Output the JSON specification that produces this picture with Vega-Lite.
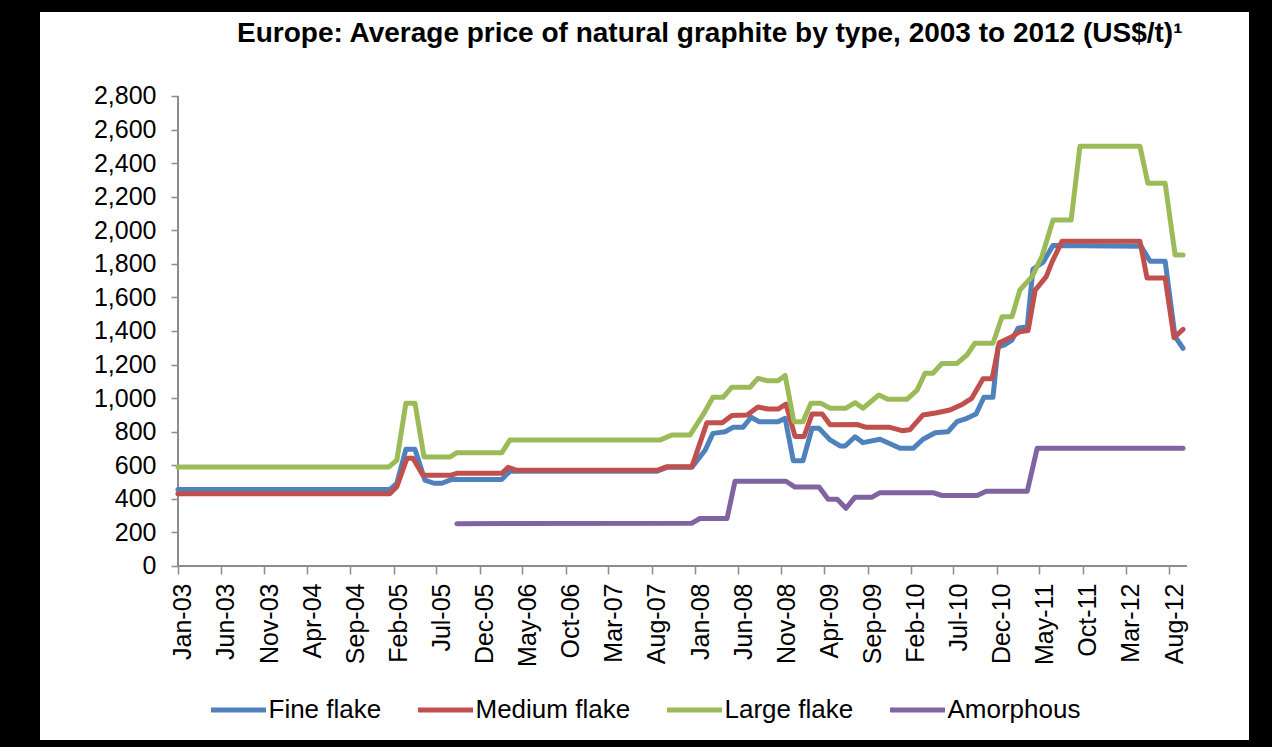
{
  "$schema": "https://vega.github.io/schema/vega-lite/v6.json",
  "width": 1209,
  "height": 728,
  "autosize": {"type": "none"},
  "padding": {"left": 40, "top": 12, "right": 23, "bottom": 7},
  "background": "#000000",
  "config": {
    "view": {"fill": "#ffffff", "stroke": null},
    "font": "Liberation Sans"
  },
  "title": {
    "text": "Europe: Average price of natural graphite by type, 2003 to 2012 (US$/t)¹",
    "anchor": "start",
    "frame": "group",
    "dx": 197,
    "offset": -58,
    "baseline": "alphabetic",
    "font": "Liberation Sans",
    "fontSize": 28,
    "fontWeight": "bold",
    "color": "#000000"
  },
  "data": {
    "values": [
      {"date": "2003-01-01", "type": "Fine flake", "price": 455},
      {"date": "2005-01-18", "type": "Fine flake", "price": 455},
      {"date": "2005-02-12", "type": "Fine flake", "price": 493},
      {"date": "2005-03-16", "type": "Fine flake", "price": 695},
      {"date": "2005-04-17", "type": "Fine flake", "price": 695},
      {"date": "2005-05-22", "type": "Fine flake", "price": 512},
      {"date": "2005-06-23", "type": "Fine flake", "price": 493},
      {"date": "2005-07-21", "type": "Fine flake", "price": 493},
      {"date": "2005-08-25", "type": "Fine flake", "price": 516},
      {"date": "2006-02-18", "type": "Fine flake", "price": 516},
      {"date": "2006-03-18", "type": "Fine flake", "price": 565},
      {"date": "2007-08-20", "type": "Fine flake", "price": 565},
      {"date": "2007-09-24", "type": "Fine flake", "price": 588},
      {"date": "2007-12-21", "type": "Fine flake", "price": 588},
      {"date": "2008-02-06", "type": "Fine flake", "price": 691},
      {"date": "2008-03-04", "type": "Fine flake", "price": 790},
      {"date": "2008-04-16", "type": "Fine flake", "price": 800},
      {"date": "2008-05-14", "type": "Fine flake", "price": 826},
      {"date": "2008-06-18", "type": "Fine flake", "price": 826},
      {"date": "2008-07-17", "type": "Fine flake", "price": 886},
      {"date": "2008-08-14", "type": "Fine flake", "price": 860},
      {"date": "2008-10-20", "type": "Fine flake", "price": 860},
      {"date": "2008-11-14", "type": "Fine flake", "price": 880},
      {"date": "2008-12-13", "type": "Fine flake", "price": 627},
      {"date": "2009-01-16", "type": "Fine flake", "price": 627},
      {"date": "2009-02-17", "type": "Fine flake", "price": 820},
      {"date": "2009-03-14", "type": "Fine flake", "price": 820},
      {"date": "2009-04-22", "type": "Fine flake", "price": 751},
      {"date": "2009-05-27", "type": "Fine flake", "price": 715},
      {"date": "2009-06-14", "type": "Fine flake", "price": 715},
      {"date": "2009-07-19", "type": "Fine flake", "price": 770},
      {"date": "2009-08-16", "type": "Fine flake", "price": 735},
      {"date": "2009-10-15", "type": "Fine flake", "price": 755},
      {"date": "2009-12-25", "type": "Fine flake", "price": 701},
      {"date": "2010-02-09", "type": "Fine flake", "price": 701},
      {"date": "2010-03-16", "type": "Fine flake", "price": 755},
      {"date": "2010-04-28", "type": "Fine flake", "price": 794},
      {"date": "2010-06-12", "type": "Fine flake", "price": 800},
      {"date": "2010-07-14", "type": "Fine flake", "price": 860},
      {"date": "2010-08-18", "type": "Fine flake", "price": 880},
      {"date": "2010-09-19", "type": "Fine flake", "price": 905},
      {"date": "2010-10-17", "type": "Fine flake", "price": 1005},
      {"date": "2010-11-18", "type": "Fine flake", "price": 1005},
      {"date": "2010-12-06", "type": "Fine flake", "price": 1306},
      {"date": "2010-12-27", "type": "Fine flake", "price": 1316},
      {"date": "2011-01-24", "type": "Fine flake", "price": 1346},
      {"date": "2011-02-14", "type": "Fine flake", "price": 1416},
      {"date": "2011-03-19", "type": "Fine flake", "price": 1426},
      {"date": "2011-04-08", "type": "Fine flake", "price": 1768},
      {"date": "2011-05-14", "type": "Fine flake", "price": 1810},
      {"date": "2011-06-18", "type": "Fine flake", "price": 1910},
      {"date": "2012-04-24", "type": "Fine flake", "price": 1905},
      {"date": "2012-05-26", "type": "Fine flake", "price": 1815},
      {"date": "2012-07-18", "type": "Fine flake", "price": 1815},
      {"date": "2012-08-22", "type": "Fine flake", "price": 1366},
      {"date": "2012-09-19", "type": "Fine flake", "price": 1297},

      {"date": "2003-01-01", "type": "Medium flake", "price": 430},
      {"date": "2005-01-18", "type": "Medium flake", "price": 430},
      {"date": "2005-02-12", "type": "Medium flake", "price": 472},
      {"date": "2005-03-20", "type": "Medium flake", "price": 642},
      {"date": "2005-04-10", "type": "Medium flake", "price": 642},
      {"date": "2005-05-15", "type": "Medium flake", "price": 540},
      {"date": "2005-08-19", "type": "Medium flake", "price": 540},
      {"date": "2005-09-12", "type": "Medium flake", "price": 552},
      {"date": "2006-02-18", "type": "Medium flake", "price": 552},
      {"date": "2006-03-12", "type": "Medium flake", "price": 588},
      {"date": "2006-04-12", "type": "Medium flake", "price": 570},
      {"date": "2007-08-20", "type": "Medium flake", "price": 570},
      {"date": "2007-09-24", "type": "Medium flake", "price": 592},
      {"date": "2007-12-21", "type": "Medium flake", "price": 592},
      {"date": "2008-02-12", "type": "Medium flake", "price": 854},
      {"date": "2008-04-06", "type": "Medium flake", "price": 854},
      {"date": "2008-05-10", "type": "Medium flake", "price": 897},
      {"date": "2008-07-03", "type": "Medium flake", "price": 900},
      {"date": "2008-08-10", "type": "Medium flake", "price": 947},
      {"date": "2008-09-15", "type": "Medium flake", "price": 935},
      {"date": "2008-10-20", "type": "Medium flake", "price": 935},
      {"date": "2008-11-17", "type": "Medium flake", "price": 965},
      {"date": "2008-12-19", "type": "Medium flake", "price": 772},
      {"date": "2009-01-20", "type": "Medium flake", "price": 772},
      {"date": "2009-02-17", "type": "Medium flake", "price": 905},
      {"date": "2009-03-25", "type": "Medium flake", "price": 905},
      {"date": "2009-04-22", "type": "Medium flake", "price": 842},
      {"date": "2009-07-26", "type": "Medium flake", "price": 843},
      {"date": "2009-08-27", "type": "Medium flake", "price": 826},
      {"date": "2009-11-19", "type": "Medium flake", "price": 826},
      {"date": "2010-01-01", "type": "Medium flake", "price": 806},
      {"date": "2010-01-29", "type": "Medium flake", "price": 812},
      {"date": "2010-03-16", "type": "Medium flake", "price": 900},
      {"date": "2010-05-04", "type": "Medium flake", "price": 913},
      {"date": "2010-06-19", "type": "Medium flake", "price": 929},
      {"date": "2010-07-28", "type": "Medium flake", "price": 959},
      {"date": "2010-09-04", "type": "Medium flake", "price": 999},
      {"date": "2010-10-14", "type": "Medium flake", "price": 1115},
      {"date": "2010-11-15", "type": "Medium flake", "price": 1115},
      {"date": "2010-12-10", "type": "Medium flake", "price": 1330},
      {"date": "2011-01-24", "type": "Medium flake", "price": 1366},
      {"date": "2011-02-21", "type": "Medium flake", "price": 1396},
      {"date": "2011-03-22", "type": "Medium flake", "price": 1403},
      {"date": "2011-04-16", "type": "Medium flake", "price": 1644},
      {"date": "2011-05-25", "type": "Medium flake", "price": 1724},
      {"date": "2011-06-15", "type": "Medium flake", "price": 1813},
      {"date": "2011-07-20", "type": "Medium flake", "price": 1935},
      {"date": "2012-04-20", "type": "Medium flake", "price": 1935},
      {"date": "2012-05-15", "type": "Medium flake", "price": 1715},
      {"date": "2012-07-18", "type": "Medium flake", "price": 1715},
      {"date": "2012-08-18", "type": "Medium flake", "price": 1360},
      {"date": "2012-09-19", "type": "Medium flake", "price": 1410},

      {"date": "2003-01-01", "type": "Large flake", "price": 590},
      {"date": "2005-01-15", "type": "Large flake", "price": 590},
      {"date": "2005-02-12", "type": "Large flake", "price": 630},
      {"date": "2005-03-16", "type": "Large flake", "price": 970},
      {"date": "2005-04-17", "type": "Large flake", "price": 970},
      {"date": "2005-05-19", "type": "Large flake", "price": 650},
      {"date": "2005-08-19", "type": "Large flake", "price": 650},
      {"date": "2005-09-12", "type": "Large flake", "price": 675},
      {"date": "2006-02-18", "type": "Large flake", "price": 675},
      {"date": "2006-03-18", "type": "Large flake", "price": 750},
      {"date": "2007-08-30", "type": "Large flake", "price": 750},
      {"date": "2007-10-11", "type": "Large flake", "price": 780},
      {"date": "2007-12-14", "type": "Large flake", "price": 780},
      {"date": "2008-02-05", "type": "Large flake", "price": 920},
      {"date": "2008-03-04", "type": "Large flake", "price": 1005},
      {"date": "2008-04-09", "type": "Large flake", "price": 1005},
      {"date": "2008-05-10", "type": "Large flake", "price": 1065},
      {"date": "2008-07-13", "type": "Large flake", "price": 1065},
      {"date": "2008-08-10", "type": "Large flake", "price": 1118},
      {"date": "2008-09-11", "type": "Large flake", "price": 1104},
      {"date": "2008-10-20", "type": "Large flake", "price": 1104},
      {"date": "2008-11-14", "type": "Large flake", "price": 1135},
      {"date": "2008-12-15", "type": "Large flake", "price": 860},
      {"date": "2009-01-16", "type": "Large flake", "price": 860},
      {"date": "2009-02-13", "type": "Large flake", "price": 969},
      {"date": "2009-03-21", "type": "Large flake", "price": 969},
      {"date": "2009-04-22", "type": "Large flake", "price": 940},
      {"date": "2009-06-17", "type": "Large flake", "price": 940},
      {"date": "2009-07-19", "type": "Large flake", "price": 973},
      {"date": "2009-08-16", "type": "Large flake", "price": 940},
      {"date": "2009-10-11", "type": "Large flake", "price": 1019},
      {"date": "2009-11-12", "type": "Large flake", "price": 993},
      {"date": "2010-01-18", "type": "Large flake", "price": 993},
      {"date": "2010-02-23", "type": "Large flake", "price": 1048},
      {"date": "2010-03-23", "type": "Large flake", "price": 1148},
      {"date": "2010-04-20", "type": "Large flake", "price": 1148},
      {"date": "2010-05-22", "type": "Large flake", "price": 1207},
      {"date": "2010-07-14", "type": "Large flake", "price": 1207},
      {"date": "2010-08-18", "type": "Large flake", "price": 1257},
      {"date": "2010-09-15", "type": "Large flake", "price": 1327},
      {"date": "2010-11-18", "type": "Large flake", "price": 1327},
      {"date": "2010-12-20", "type": "Large flake", "price": 1485},
      {"date": "2011-01-24", "type": "Large flake", "price": 1485},
      {"date": "2011-02-21", "type": "Large flake", "price": 1644},
      {"date": "2011-04-05", "type": "Large flake", "price": 1724},
      {"date": "2011-05-10", "type": "Large flake", "price": 1845},
      {"date": "2011-06-18", "type": "Large flake", "price": 2061},
      {"date": "2011-08-21", "type": "Large flake", "price": 2061},
      {"date": "2011-09-21", "type": "Large flake", "price": 2500},
      {"date": "2012-04-20", "type": "Large flake", "price": 2500},
      {"date": "2012-05-18", "type": "Large flake", "price": 2280},
      {"date": "2012-07-18", "type": "Large flake", "price": 2280},
      {"date": "2012-08-22", "type": "Large flake", "price": 1853},
      {"date": "2012-09-19", "type": "Large flake", "price": 1853},

      {"date": "2005-09-12", "type": "Amorphous", "price": 252},
      {"date": "2007-12-21", "type": "Amorphous", "price": 255},
      {"date": "2008-01-18", "type": "Amorphous", "price": 283},
      {"date": "2008-04-23", "type": "Amorphous", "price": 283},
      {"date": "2008-05-21", "type": "Amorphous", "price": 505},
      {"date": "2008-11-17", "type": "Amorphous", "price": 505},
      {"date": "2008-12-19", "type": "Amorphous", "price": 470},
      {"date": "2009-03-14", "type": "Amorphous", "price": 470},
      {"date": "2009-04-15", "type": "Amorphous", "price": 397},
      {"date": "2009-05-17", "type": "Amorphous", "price": 397},
      {"date": "2009-06-17", "type": "Amorphous", "price": 344},
      {"date": "2009-07-19", "type": "Amorphous", "price": 410},
      {"date": "2009-09-17", "type": "Amorphous", "price": 410},
      {"date": "2009-10-15", "type": "Amorphous", "price": 437},
      {"date": "2010-04-20", "type": "Amorphous", "price": 437},
      {"date": "2010-05-22", "type": "Amorphous", "price": 420},
      {"date": "2010-09-23", "type": "Amorphous", "price": 420},
      {"date": "2010-10-25", "type": "Amorphous", "price": 445},
      {"date": "2011-03-19", "type": "Amorphous", "price": 445},
      {"date": "2011-04-23", "type": "Amorphous", "price": 701},
      {"date": "2012-09-19", "type": "Amorphous", "price": 701}
    ]
  },
  "layer": [
    {
      "mark": {"type": "rule", "color": "#8c8c8c", "strokeWidth": 1.5},
      "encoding": {
        "x": {"datum": {"year": 2003, "month": 1, "date": 1, "utc": true}, "type": "temporal"},
        "y": {"datum": 0, "type": "quantitative"},
        "y2": {"datum": 2800}
      }
    },
    {
      "mark": {"type": "rule", "color": "#8c8c8c", "strokeWidth": 1.5},
      "encoding": {
        "x": {"datum": {"year": 2003, "month": 1, "date": 1, "utc": true}, "type": "temporal"},
        "x2": {"datum": {"year": 2012, "month": 10, "date": 3, "utc": true}},
        "y": {"datum": 0, "type": "quantitative"}
      }
    },
    {
      "mark": {"type": "line", "strokeWidth": 5, "strokeCap": "round", "strokeJoin": "round"},
      "encoding": {
        "x": {
          "field": "date",
          "type": "temporal",
          "scale": {
            "type": "utc",
            "domain": [
              {"year": 2001, "month": 9, "date": 1, "utc": true},
              {"year": 2013, "month": 5, "date": 10, "utc": true}
            ],
            "nice": false
          },
          "axis": {
            "title": null,
            "orient": "bottom",
            "offset": -174,
            "domain": false,
            "grid": false,
            "values": [
              {"year": 2003, "month": 1, "date": 1, "utc": true},
              {"year": 2003, "month": 6, "date": 1, "utc": true},
              {"year": 2003, "month": 11, "date": 1, "utc": true},
              {"year": 2004, "month": 4, "date": 1, "utc": true},
              {"year": 2004, "month": 9, "date": 1, "utc": true},
              {"year": 2005, "month": 2, "date": 1, "utc": true},
              {"year": 2005, "month": 7, "date": 1, "utc": true},
              {"year": 2005, "month": 12, "date": 1, "utc": true},
              {"year": 2006, "month": 5, "date": 1, "utc": true},
              {"year": 2006, "month": 10, "date": 1, "utc": true},
              {"year": 2007, "month": 3, "date": 1, "utc": true},
              {"year": 2007, "month": 8, "date": 1, "utc": true},
              {"year": 2008, "month": 1, "date": 1, "utc": true},
              {"year": 2008, "month": 6, "date": 1, "utc": true},
              {"year": 2008, "month": 11, "date": 1, "utc": true},
              {"year": 2009, "month": 4, "date": 1, "utc": true},
              {"year": 2009, "month": 9, "date": 1, "utc": true},
              {"year": 2010, "month": 2, "date": 1, "utc": true},
              {"year": 2010, "month": 7, "date": 1, "utc": true},
              {"year": 2010, "month": 12, "date": 1, "utc": true},
              {"year": 2011, "month": 5, "date": 1, "utc": true},
              {"year": 2011, "month": 10, "date": 1, "utc": true},
              {"year": 2012, "month": 3, "date": 1, "utc": true},
              {"year": 2012, "month": 8, "date": 1, "utc": true}
            ],
            "format": "%b-%y",
            "labelAngle": -90,
            "labelFont": "Liberation Sans",
            "labelFontSize": 25,
            "labelColor": "#000000",
            "labelPadding": 9,
            "labelOffset": 5,
            "labelOverlap": false,
            "labelFlush": false,
            "tickSize": 8,
            "tickColor": "#8c8c8c",
            "tickWidth": 1.5
          }
        },
        "y": {
          "field": "price",
          "type": "quantitative",
          "scale": {"domain": [-1036.6, 3300.4], "nice": false, "zero": false},
          "axis": {
            "title": null,
            "orient": "left",
            "offset": -138,
            "domain": false,
            "grid": false,
            "values": [0, 200, 400, 600, 800, 1000, 1200, 1400, 1600, 1800, 2000, 2200, 2400, 2600, 2800],
            "format": ",d",
            "labelFont": "Liberation Sans",
            "labelFontSize": 25,
            "labelColor": "#000000",
            "labelPadding": 15,
            "labelOverlap": false,
            "labelFlush": false,
            "tickSize": 7,
            "tickColor": "#8c8c8c",
            "tickWidth": 1.5
          }
        },
        "color": {
          "field": "type",
          "type": "nominal",
          "scale": {
            "domain": ["Fine flake", "Medium flake", "Large flake", "Amorphous"],
            "range": ["#4F81BD", "#C0504D", "#9BBB59", "#8064A2"]
          },
          "legend": {
            "title": null,
            "orient": "none",
            "legendX": 168.5,
            "legendY": 668,
            "direction": "horizontal",
            "columns": 4,
            "symbolType": "stroke",
            "symbolSize": 3025,
            "symbolStrokeWidth": 5,
            "labelFont": "Liberation Sans",
            "labelFontSize": 26,
            "labelColor": "#000000",
            "labelOffset": 0,
            "columnPadding": 26,
            "padding": 0
          }
        }
      }
    }
  ]
}
